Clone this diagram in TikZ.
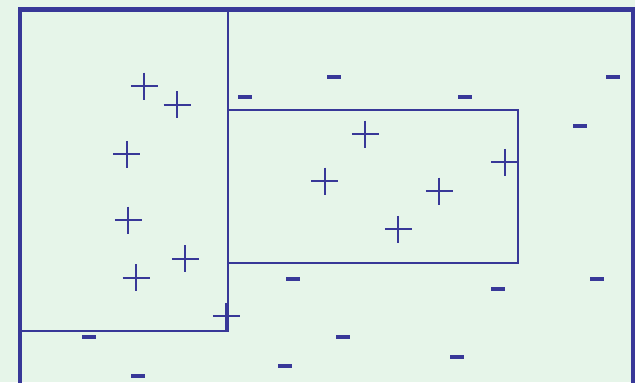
\documentclass[tikz,border=0pt]{standalone}
\usepackage{tikz}
\usetikzlibrary{positioning,calc}
\definecolor{signblue}{RGB}{56,56,152}
\definecolor{fondvert}{RGB}{230,245,233}

\begin{document}
\begin{tikzpicture}[
    x=0.02cm,y=-0.02cm,
    cadre/.style   = {draw=signblue, line width=2.8pt},
    zone/.style    = {draw=signblue, line width=1.1pt},
    trait/.style   = {signblue, line width=1.1pt},
  ]

  % ── Signes ──────────────────────────────────────────────────────────────
  \tikzset{plus/.pic={
      \draw[trait] (-13.5,0) -- (13.5,0);
      \draw[trait] (0,-13.5) -- (0,13.5);},
    moins/.pic={
      \fill[signblue] (-7,-2) rectangle (7,2);}}

  % ── Fond et cadre ───────────────────────────────────────────────────────
  \clip (0,0) rectangle (635,382);
  \fill[fondvert] (0,0) rectangle (635,382);
  \draw[cadre] (20,9.5) rectangle (633,420);

  % ── Régions ─────────────────────────────────────────────────────────────
  \draw[zone] (20,9.5) rectangle (228.3,330.7);
  \draw[zone] (228.3,110) rectangle (518.3,263.3);

  % ── Exemples positifs ───────────────────────────────────────────────────
  \foreach \x/\y in {144.3/86, 177/104.7, 126.7/154.3, 128.3/220,
                     136/277.7, 185.3/258.7, 226.3/316.3,
                     365.3/134, 324.7/181, 439.3/191, 504.7/162.3,
                     398.3/229.3}
    \pic at (\x,\y) {plus};

  % ── Exemples négatifs ───────────────────────────────────────────────────
  \foreach \x/\y in {245/96.7, 334/77, 465/96.7, 613/76.7, 580/125.7,
                     293/279, 498/289, 597/279, 457/357,
                     89/337, 138/375.7, 343/337, 285/366}
    \pic at (\x,\y) {moins};

\end{tikzpicture}
\end{document}
